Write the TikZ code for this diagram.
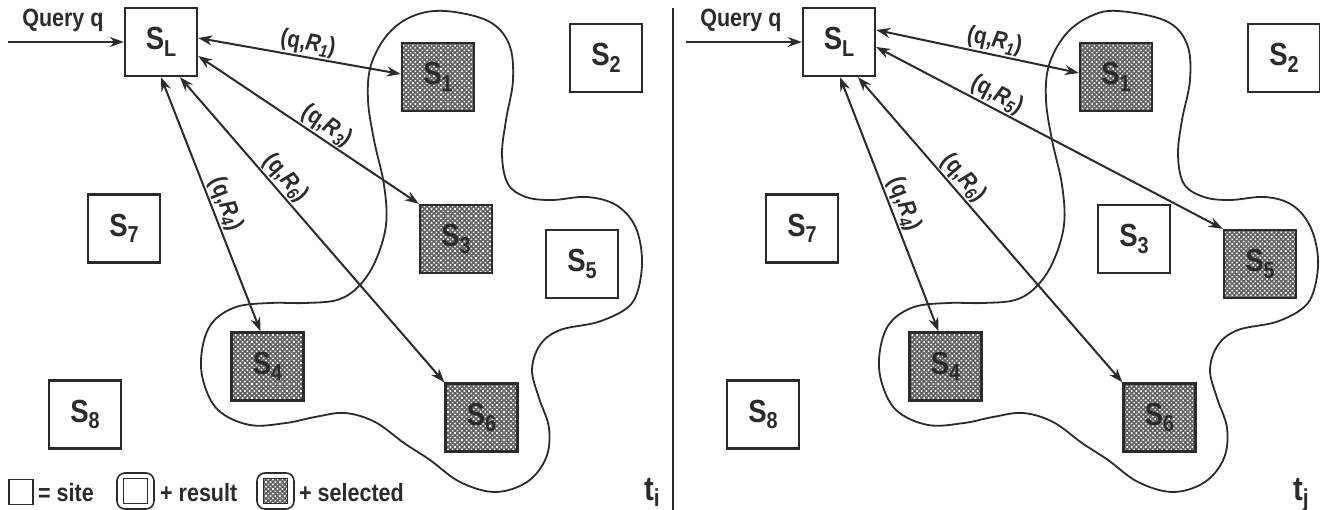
\documentclass[tikz,border=0pt]{standalone}
\usepackage{fontspec}
\setmainfont{Liberation Sans}[FakeStretch=0.86]
\usetikzlibrary{arrows.meta,patterns.meta}

% lowered, reduced subscript that follows the current font size
\newcommand\lowsub[1]{\raisebox{-.2em}{\scalebox{.72}{#1}}}
\definecolor{ink}{HTML}{2B2B2B}

\begin{document}
\begin{tikzpicture}[x=1pt,y=-1pt, color=ink,
  site/.style={draw, line width=2.4pt, minimum width=72pt, minimum height=68pt,
    inner sep=0pt, font=\fontsize{32}{36}\selectfont\bfseries},
  mesh/.style={preaction={fill=black!62},
    pattern={Dots[radius=1.1pt,distance=3.3pt,angle=45]}, pattern color=white},
  chosen/.style={site, mesh},
  link/.style={line width=2pt, {Stealth[length=14pt,width=10pt]}-{Stealth[length=14pt,width=10pt]}},
  feed/.style={line width=2pt, -{Stealth[length=14pt,width=10pt]}},
  lbl/.style={sloped, above, inner sep=1.5pt, font=\fontsize{24}{28}\selectfont\bfseries},
  txt/.style={font=\fontsize{25}{29}\selectfont\bfseries, inner sep=0pt},
  blob/.style={line width=1.8pt},
  keybox/.style={draw, line width=1.8pt, minimum width=24pt, minimum height=25pt, inner sep=0pt},
  keyring/.style={draw, line width=1.6pt, rounded corners=8pt, minimum width=37pt,
    minimum height=36pt, inner sep=0pt}
]
\useasboundingbox (0,0) rectangle (1320,510);

% ---------- first snapshot ----------
\draw[blob] plot[smooth cycle, tension=0.6] coordinates {
  (445,11) (488,21) (509,44) (513,80) (506,120) (502,155) (508,184) (526,197)
  (552,200) (587,197) (616,205) (635,226) (642,258) (638,290) (627,308) (598,322)
  (560,330) (540,345) (532,370) (539,398) (549,428) (546,458) (527,482) (495,492)
  (460,482) (430,460) (404,443) (375,422) (345,413) (315,417) (286,423) (250,425)
  (218,410) (203,380) (202,350) (212,323) (236,307) (270,303) (305,303) (337,300)
  (358,287) (375,262) (386,225) (384,185) (374,140) (368,100) (371,65) (388,34) (413,16)};

\node[site]   (SL) at (161,42)    {S\lowsub{L}};
\node[chosen] (S1) at (438,77)    {S\lowsub{1}};
\node[site]   (S2) at (606,58)    {S\lowsub{2}};
\node[chosen] (S3) at (456,239)   {S\lowsub{3}};
\node[site]   (S5) at (582,264)   {S\lowsub{5}};
\node[site]   (S7) at (124,228.5) {S\lowsub{7}};
\node[chosen] (S4) at (267.5,366.5) {S\lowsub{4}};
\node[chosen] (S6) at (481.5,417.5) {S\lowsub{6}};
\node[site]   (S8) at (85,414.5)  {S\lowsub{8}};

\coordinate (q0) at (8,42);
\draw[feed] (q0) -- (SL.west) node[txt, midway, xshift=-3pt, above=9pt] (qlab) {Query q};

\draw[link] ([yshift=4pt]SL.east) -- ([yshift=3pt]S1.west)
  node[lbl, pos=.53] (l1) {(q,\textit{R\lowsub{1}})};
\draw[link] ([yshift=-14pt]SL.east) -- (S3.north west)
  node[lbl, pos=.55] (l3) {(q,\textit{R\lowsub{3}})};
\draw[link] ([xshift=19pt]SL.south) -- (S6.north west)
  node[lbl, pos=.36] (l6) {(q,\textit{R\lowsub{6}})};
\draw[link] (SL.south) -- ([xshift=-7pt]S4.north)
  node[lbl, pos=.52] (l4) {(q,\textit{R\lowsub{4}})};

\node[anchor=base west, inner sep=0pt, font=\fontsize{34}{38}\selectfont\bfseries] (ti) at (644,500) {t\lowsub{i}};

% legend
\node[keybox] (k1) at (21,492) {};
\node[txt, anchor=west] (k1t) at (38,493) {= site};
\node[keyring] (k2r) at (135.5,491) {};
\node[keybox] (k2) at (135.5,491) {};
\node[txt, anchor=west] (k2t) at (160,493) {+ result};
\node[keyring] (k3r) at (275.5,491) {};
\node[keybox, mesh] (k3) at (275.5,491) {};
\node[txt, anchor=west] (k3t) at (299,493) {+ selected};

% separator between the two snapshots
\coordinate (sepa) at (673,8);
\coordinate (sepb) at (673,510);
\draw[line width=1.5pt] (sepa) -- (sepb);

% ---------- second snapshot ----------
\begin{scope}[xshift=678pt, name prefix=r-]
\draw[blob] plot[smooth cycle, tension=0.6] coordinates {
  (440,11) (488,21) (509,44) (512,80) (504,120) (500,155) (506,184) (526,197)
  (552,200) (587,197) (614,205) (632,226) (640,258) (636,290) (625,308) (598,322)
  (560,330) (540,345) (532,370) (539,398) (549,428) (546,458) (527,482) (495,492)
  (460,482) (430,460) (404,443) (375,422) (345,413) (315,417) (286,423) (250,425)
  (218,410) (203,380) (202,350) (212,323) (236,307) (270,303) (305,303) (337,300)
  (358,287) (375,262) (386,225) (384,185) (374,140) (368,100) (371,65) (388,34) (413,16)};

\node[site]   (SL) at (161,42)    {S\lowsub{L}};
\node[chosen] (S1) at (438,77)    {S\lowsub{1}};
\node[site]   (S2) at (606,58)    {S\lowsub{2}};
\node[site]   (S3) at (456,239)   {S\lowsub{3}};
\node[chosen] (S5) at (582,264)   {S\lowsub{5}};
\node[site]   (S7) at (124,228.5) {S\lowsub{7}};
\node[chosen] (S4) at (267.5,366.5) {S\lowsub{4}};
\node[chosen] (S6) at (481.5,417.5) {S\lowsub{6}};
\node[site]   (S8) at (85,414.5)  {S\lowsub{8}};

\coordinate (q0) at (8,42);
\draw[feed] (q0) -- (SL.west) node[txt, midway, xshift=-3pt, above=9pt] (qlab) {Query q};

\draw[link] ([yshift=12pt]SL.east) -- ([yshift=4pt]S1.west)
  node[lbl, pos=.57] (l1) {(q,\textit{R\lowsub{1}})};
\draw[link] ([yshift=-5pt]SL.east) -- (S5.north west)
  node[lbl, pos=.33] (l5) {(q,\textit{R\lowsub{5}})};
\draw[link] ([xshift=19pt]SL.south) -- (S6.north west)
  node[lbl, pos=.36] (l6) {(q,\textit{R\lowsub{6}})};
\draw[link] ([xshift=1pt]SL.south) -- ([xshift=-7pt]S4.north)
  node[lbl, pos=.52] (l4) {(q,\textit{R\lowsub{4}})};

\node[anchor=base west, inner sep=0pt, font=\fontsize{34}{38}\selectfont\bfseries] (tj) at (615,500) {t\lowsub{j}};
\end{scope}
\end{tikzpicture}
\end{document}
